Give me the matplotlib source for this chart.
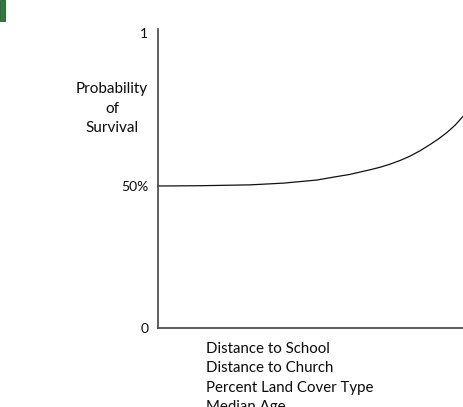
import matplotlib
matplotlib.use("Agg")
import matplotlib.pyplot as plt
from matplotlib.patches import Rectangle

# Data (x normalised along the axis, y as probability)
x_vals = [0.0, 0.138, 0.302, 0.410, 0.521, 0.574, 0.630, 0.662, 0.695, 0.728,
          0.761, 0.794, 0.826, 0.859, 0.892, 0.920, 0.948, 0.974, 1.0]
y_vals = [0.500, 0.501, 0.504, 0.510, 0.521, 0.531, 0.541, 0.549, 0.557, 0.566,
          0.577, 0.590, 0.605, 0.624, 0.646, 0.666, 0.689, 0.714, 0.745]
y_tick_labels = ["0", "50%", "1"]
y_label_lines = ["Probability", "of", "Survival"]
x_label_lines = ["Distance to School", "Distance to Church", "Percent Land Cover Type", "Median Age"]

W, H = 463, 407
fig = plt.figure(figsize=(W / 100, H / 100), dpi=100)
plt.rcParams['font.family'] = ['Lato', 'DejaVu Sans']
TXT = "#0a0a0a"

def fx(px):
    return px / W

def fy(py):
    return 1 - py / H

# green fragment at top-left
fig.patches.append(Rectangle((0, fy(21)), fx(5), 21 / H, transform=fig.transFigure,
                             facecolor="#2f7a3f", edgecolor="#1f5a2c", lw=0.6))

ax = fig.add_axes([fx(158), fy(328), fx(W - 158), (328 - 29) / H])
ax.plot(x_vals, y_vals, color="#111111", lw=0.9, clip_on=False)
ax.set_xlim(0, 1.0)
ax.set_ylim(0, 299 / 284)
ax.set_xticks([])
ax.set_yticks([0, 0.5, 1.04])
ax.set_yticklabels(y_tick_labels, fontsize=10, color=TXT)
ax.tick_params(axis="y", length=0, pad=7)
for s in ["top", "right"]:
    ax.spines[s].set_visible(False)
for s in ["left", "bottom"]:
    ax.spines[s].set_color("#444444")
    ax.spines[s].set_linewidth(1.2)

for i, t in enumerate(y_label_lines):
    fig.text(fx(112), fy(89 + 19.7 * i), t, ha="center", va="center", fontsize=11, color=TXT)

for i, t in enumerate(x_label_lines):
    fig.text(fx(206), fy(349 + 19.5 * i), t, ha="left", va="center", fontsize=10.8, color=TXT)

fig.savefig("out.png", dpi=100)
